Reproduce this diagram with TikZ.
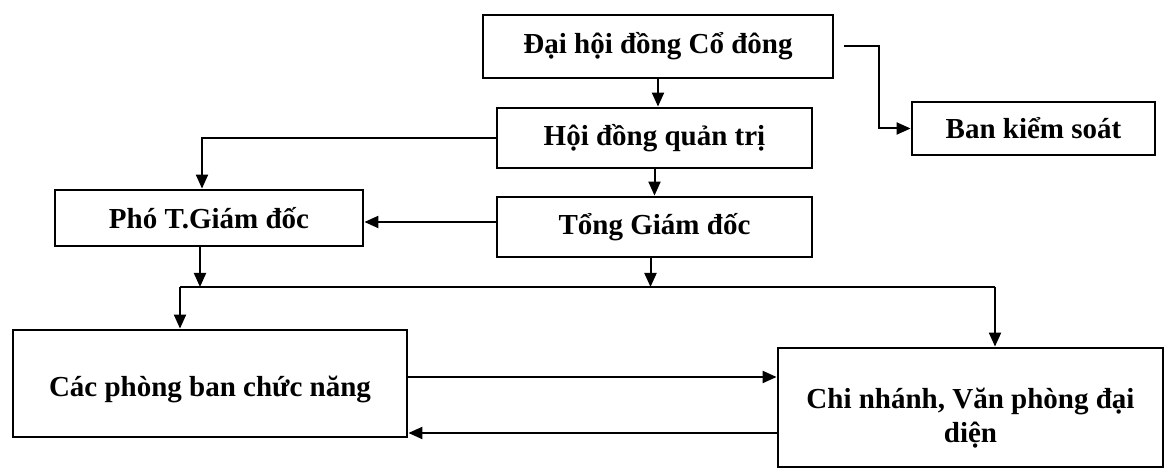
\documentclass[tikz,border=0pt]{standalone}
\usepackage{fontspec}
\setmainfont{Liberation Serif}
\usepackage{tikz}
\usetikzlibrary{positioning,arrows.meta}

\begin{document}
\begin{tikzpicture}[x=0.5pt, y=-0.5pt,
        boxtext/.style={font=\fontsize{14.5}{17}\selectfont\bfseries, align=center},
        box/.style={rectangle, draw, line width=1.4pt, inner sep=2pt, boxtext},
        link/.style={line width=1pt},
        >={Triangle[length=7pt, width=6pt]}]
        \useasboundingbox (0,0) rectangle (1168,474);

        \node[box, minimum width = 175pt, minimum height = 31.5pt] (daihoi) at (658, 46.5) {Đại hội đồng Cổ đông};
        \node[box, minimum width = 157.5pt, minimum height = 30pt] (hdqt) at (654.5, 138) {Hội đồng quản trị};
        \node[box, minimum width = 121.5pt, minimum height = 26.5pt] (bks) at (1033.5, 128.5) {Ban kiểm soát};
        \node[box, minimum width = 157.5pt, minimum height = 30pt] (tgd) at (654.5, 227) {Tổng Giám đốc};
        \node[box, minimum width = 154pt, minimum height = 28pt] (photgd) at (209, 218) {Phó T.Giám đốc};
        \node[box, minimum width = 197pt, minimum height = 53.5pt,
            label={[boxtext, yshift=-3pt]center:Các phòng ban chức năng}] (phongban) at (210, 383.5) {};
        \node[box, minimum width = 192.5pt, minimum height = 59.5pt,
            label={[boxtext, yshift=-5.5pt]center:Chi nhánh, Văn phòng đại\\diện}] (chinhanh) at (970.5, 407.5) {};

        \coordinate (busL) at (180, 287);
        \coordinate (busR) at (995, 287);

        \draw[link, ->] (daihoi.south) -- (daihoi.south |- hdqt.north);
        \draw[link, ->] ([xshift=5pt]daihoi.east) -- ++(17.5pt, 0) |- (bks.west);
        \draw[link, ->] (hdqt.west) -| ([xshift=-3.5pt]photgd.north);
        \draw[link, ->] (hdqt.south) -- (tgd.north);
        \draw[link, ->] ([yshift=2.5pt]tgd.west) -- ([yshift=2.5pt]tgd.west -| photgd.east);
        \draw[link, ->] ([xshift=-4.5pt]photgd.south) -- ([xshift=-4.5pt]photgd.south |- busL);
        \draw[link, ->] ([xshift=-2pt]tgd.south) -- ([xshift=-2pt]tgd.south |- busL);
        \draw[link] (busL) -- (busR);
        \draw[link, ->] (busL) -- (busL |- phongban.north);
        \draw[link, ->] (busR) -- (busR |- chinhanh.north);
        \draw[link, ->] ([yshift=3.25pt]phongban.east) -- ([yshift=3.25pt]phongban.east -| chinhanh.west);
        \draw[link, ->] ([yshift=-24.75pt]phongban.east -| chinhanh.west) -- ([yshift=-24.75pt]phongban.east);
\end{tikzpicture}
\end{document}
